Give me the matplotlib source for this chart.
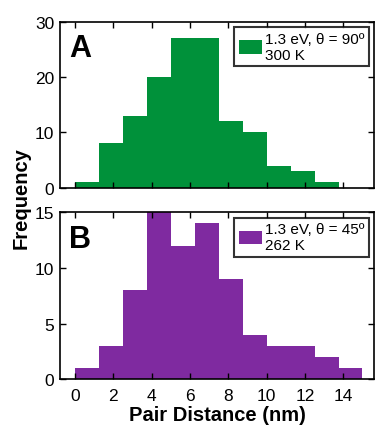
import matplotlib
matplotlib.use("Agg")
import matplotlib.pyplot as plt
import numpy as np

plt.rcParams['font.family'] = ['Liberation Sans', 'DejaVu Sans']

bin_edges = [0, 1.25, 2.5, 3.75, 5, 6.25, 7.5, 8.75, 10, 11.25, 12.5, 13.75, 15]
counts_a = [1, 8, 13, 20, 27, 27, 12, 10, 4, 3, 1, 0]
counts_b = [1, 3, 8, 15, 12, 14, 9, 4, 3, 3, 2, 1]
label_a = "1.3 eV, θ = 90º\n300 K"
label_b = "1.3 eV, θ = 45º\n262 K"
xticks = [0, 2, 4, 6, 8, 10, 12, 14]
yticks_a = [0, 10, 20, 30]
yticks_b = [0, 5, 10, 15]

green = '#00913a'
purple = '#7f2aa0'

fig = plt.figure(figsize=(3.77, 4.27), dpi=100)
W, H = 377, 427
ax_a = fig.add_axes([60/W, 1-188.7/H, 314/W, 166/H])
ax_b = fig.add_axes([60/W, 1-380.3/H, 314/W, 167/H])

edges = np.array(bin_edges)
for ax, counts, col, lab, yt, letter in [
        (ax_a, counts_a, green, label_a, yticks_a, 'A'),
        (ax_b, counts_b, purple, label_b, yticks_b, 'B')]:
    ax.bar(edges[:-1], counts, width=np.diff(edges), align='edge',
           color=col, edgecolor='none', label=lab)
    ax.set_xlim(-0.78, 15.6)
    ax.set_ylim(0, yt[-1])
    ax.set_yticks(yt)
    ax.set_xticks(xticks)
    ax.tick_params(direction='in', top=True, right=True, labelsize=12.5,
                   length=4, width=1, pad=4)
    ax.tick_params(axis='x', pad=6)
    for s in ax.spines.values():
        s.set_linewidth(1.2)
    ax.text(0.03, 0.93, letter, transform=ax.transAxes, fontsize=22,
            fontweight='bold', va='top', ha='left')
    leg = ax.legend(loc='upper right', fontsize=11, frameon=True, fancybox=False,
                    handlelength=1.5, handleheight=1.0, handletextpad=0.2,
                    borderpad=0.3, borderaxespad=0.35, labelspacing=0.05)
    leg.get_frame().set_edgecolor('black')
    leg.get_frame().set_linewidth(1.5)

ax_a.tick_params(labelbottom=False)
ax_b.set_xlabel('Pair Distance (nm)', fontsize=14.5, fontweight='bold', labelpad=2)
fig.text(21/W, 1-198/H, 'Frequency', rotation=90, fontsize=14.5, fontweight='bold',
         ha='center', va='center')

fig.savefig('out.png', dpi=100)
